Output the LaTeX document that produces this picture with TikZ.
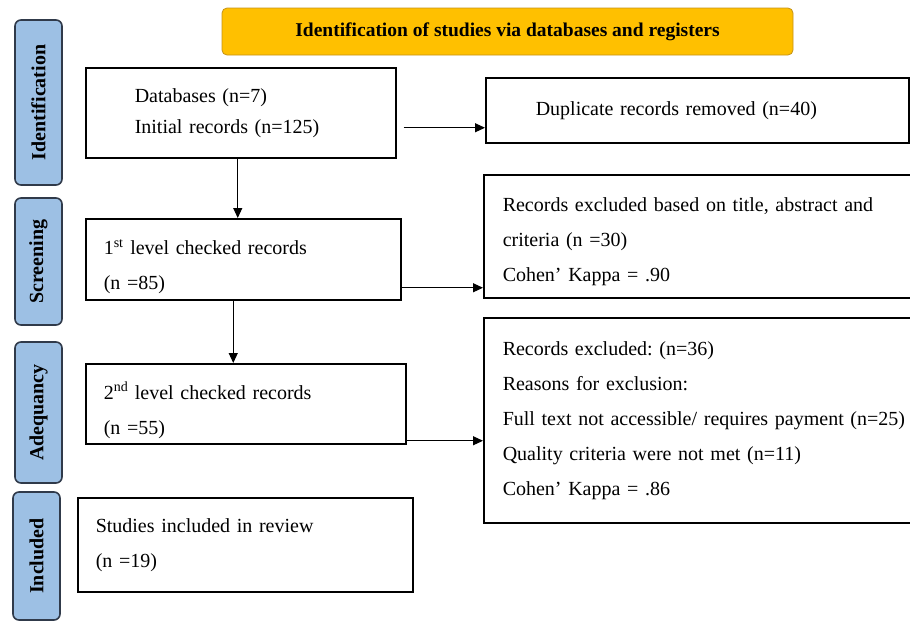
\documentclass[tikz,border=0pt]{standalone}
\usepackage{fontspec}
\setmainfont{Liberation Serif}
\usepackage{tikz}
\usetikzlibrary{arrows.meta}
\definecolor{stagefill}{RGB}{157,192,228}
\definecolor{stageline}{RGB}{48,58,74}
\definecolor{bannerfill}{RGB}{255,192,0}
\definecolor{bannerline}{RGB}{196,146,24}
\tikzset{every picture/.style={x=1pt,y=-1pt}}
\tikzset{
  stagebox/.style={draw=stageline, fill=stagefill, line width=1.6pt, rounded corners=6pt,
    rotate=90, minimum height=47pt, inner sep=0pt, font=\bfseries\fontsize{20}{24}\selectfont},
  recbox/.style={draw, line width=1.5pt, anchor=north west, align=left, inner ysep=0pt,
    font=\fontsize{20}{35}\selectfont},
  flowarrow/.style={line width=1.1pt, -{Triangle[length=10pt,width=9pt]}}
}
\frenchspacing

\begin{document}
\begin{tikzpicture}
        \useasboundingbox (0,0) rectangle (910,622);
        % Banner
        \node[draw=bannerline, fill=bannerfill, line width=0.8pt, rounded corners=5pt,
          minimum width=571pt, minimum height=47pt, font=\bfseries\fontsize{19.5}{24}\selectfont]
          (banner) at (507.5,31.5) {Identification of studies via databases and registers};

        % Stages on the left
        \node[stagebox, minimum width=165pt] (idstage) at (38.5,102.5) {Identification};
        \node[stagebox, minimum width=127pt] (scrstage) at (38.5,261.5) {Screening};
        \node[stagebox, minimum width=141pt] (adqstage) at (38.5,412.5) {Adequancy};
        \node[stagebox, minimum width=128pt] (incstage) at (36.5,556) {Included};

        % Main column
        \node[recbox, inner xsep=49pt, text width=212pt, minimum height=90pt,
          font=\fontsize{20}{31}\selectfont] (db) at (85,67)
          {Databases (n=7)\\Initial records (n=125)};
        \node[recbox, inner xsep=18pt, text width=279pt, minimum height=81pt] (chk1) at (85,218)
          {\rule{0pt}{30pt}1\textsuperscript{st} level checked records\\(n =85)};
        \node[recbox, inner xsep=18pt, text width=284pt, minimum height=80pt] (chk2) at (85,363)
          {\rule{0pt}{30pt}2\textsuperscript{nd} level checked records\\(n =55)};
        \node[recbox, inner xsep=18pt, text width=299pt, minimum height=94pt] (incl) at (77,497)
          {Studies included in review\\(n =19)};

        % Right column
        \node[recbox, inner xsep=50pt, text width=323pt, minimum height=65pt] (dup) at (485,77)
          {Duplicate records removed (n=40)};
        \node[recbox, inner xsep=19pt, text width=401pt, minimum height=123pt] (excl1) at (483,174)
          {\rule{0pt}{25pt}\makebox[401pt][s]{Records excluded based on title, abstract and}\\criteria (n =30)\\Cohen’ Kappa = .90};
        \node[recbox, inner xsep=19pt, text width=412pt, minimum height=205pt] (excl2) at (483,317)
          {Records excluded: (n=36)\\Reasons for exclusion:\\Full text not accessible/ requires payment (n=25)\\Quality criteria were not met (n=11)\\Cohen’ Kappa = .86};

        % Arrows
        \coordinate (dbdown) at ([xshift=-3pt]db.south);
        \coordinate (dbout) at ([xshift=7pt,yshift=-15pt]db.east);
        \coordinate (chk1out) at ([yshift=-28.5pt]chk1.east);
        \coordinate (chk2out) at ([yshift=-37pt]chk2.east);
        \coordinate (chk1down) at ([xshift=-10pt]chk1.south);
        \draw[flowarrow] (dbdown) -- (dbdown |- chk1.north);
        \draw[flowarrow] (chk1down) -- (chk1down |- chk2.north);
        \draw[flowarrow] (dbout) -- (dbout -| dup.west);
        \draw[flowarrow] (chk1out) -- (chk1out -| excl1.west);
        \draw[flowarrow] (chk2out) -- (chk2out -| excl2.west);
    \end{tikzpicture}
\end{document}
